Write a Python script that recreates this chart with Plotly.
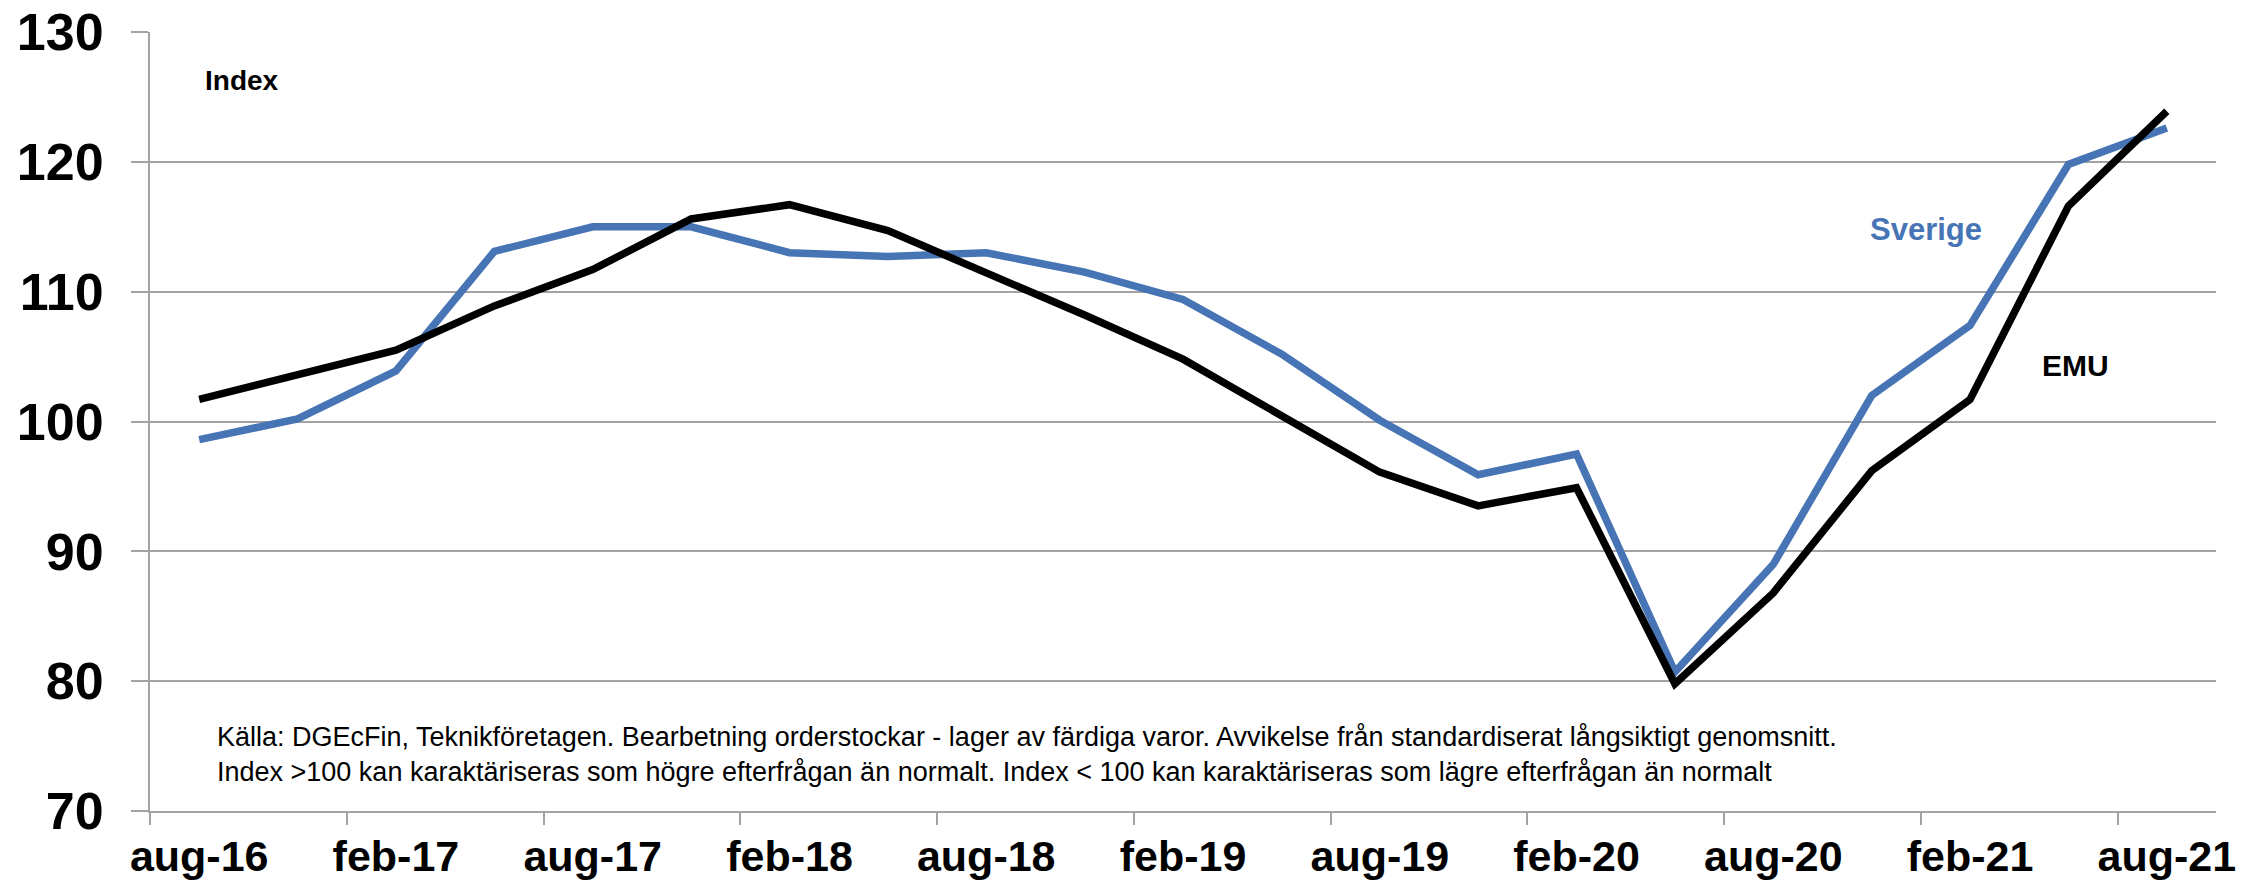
import plotly.graph_objects as go

# Quarterly observations (Aug 2016 - Aug 2021)
categories = ["aug-16", "nov-16", "feb-17", "maj-17", "aug-17", "nov-17", "feb-18", "maj-18",
              "aug-18", "nov-18", "feb-19", "maj-19", "aug-19", "nov-19", "feb-20", "maj-20",
              "aug-20", "nov-20", "feb-21", "maj-21", "aug-21"]
sverige = [98.6, 100.2, 103.9, 113.1, 115.0, 115.0, 113.0, 112.7, 113.0, 111.5, 109.4,
           105.2, 100.1, 95.9, 97.5, 80.7, 89.0, 102.0, 107.4, 119.8, 122.6]
emu = [101.7, 103.6, 105.5, 108.9, 111.7, 115.6, 116.7, 114.7, 111.5, 108.2, 104.8,
       100.4, 96.1, 93.5, 94.9, 79.8, 86.8, 96.2, 101.7, 116.6, 123.9]
y_ticks = [70, 80, 90, 100, 110, 120, 130]

x_idx = list(range(len(categories)))
label_idx = x_idx[::2]
label_text = [categories[i] for i in label_idx]
boundary_ticks = [i - 0.5 for i in label_idx]

FONT = "Arial, Liberation Sans, sans-serif"
BLUE = "#4674B4"
GRID = "#A3A3A3"

fig = go.Figure()
fig.add_trace(go.Scatter(x=x_idx, y=sverige, mode="lines", name="Sverige",
                         line=dict(color=BLUE, width=7.5), hoverinfo="skip"))
fig.add_trace(go.Scatter(x=x_idx, y=emu, mode="lines", name="EMU",
                         line=dict(color="black", width=7.5), hoverinfo="skip"))

fig.update_layout(
    width=2257, height=885,
    margin=dict(l=150, r=41, t=32, b=74),
    paper_bgcolor="white", plot_bgcolor="white",
    showlegend=False,
    font=dict(family=FONT, color="black"),
    xaxis=dict(
        range=[-0.5, len(categories) - 0.5], automargin=False,
        tickmode="array", tickvals=label_idx, ticktext=label_text,
        ticks="", showgrid=False, zeroline=False,
        showline=True, linecolor=GRID, linewidth=2,
        tickfont=dict(family=FONT, size=43, color="black", weight="bold"),
        ticklabelstandoff=6, ticklabeloverflow="allow",
        minor=dict(tickmode="array", tickvals=boundary_ticks, ticks="outside",
                   ticklen=12, tickwidth=2, tickcolor=GRID, showgrid=False),
    ),
    yaxis=dict(
        range=[70, 130], tickmode="array", tickvals=y_ticks, automargin=False,
        ticks="outside", ticklen=17, tickwidth=2, tickcolor=GRID,
        showgrid=True, gridcolor=GRID, gridwidth=2, zeroline=False,
        showline=True, linecolor=GRID, linewidth=2,
        tickfont=dict(family=FONT, size=52, color="black", weight="bold"),
        ticklabelstandoff=17, ticklabeloverflow="allow",
    ),
)

fig.add_annotation(x=0.04, y=126.3, xref="x", yref="y", text="Index", showarrow=False,
                   xanchor="left", yanchor="middle",
                   font=dict(family=FONT, size=28, color="black", weight="bold"))
fig.add_annotation(x=17.55, y=114.8, xref="x", yref="y", text="Sverige", showarrow=False,
                   xanchor="center", yanchor="middle",
                   font=dict(family=FONT, size=31, color=BLUE, weight="bold"))
fig.add_annotation(x=19.07, y=104.3, xref="x", yref="y", text="EMU", showarrow=False,
                   xanchor="center", yanchor="middle",
                   font=dict(family=FONT, size=30, color="black", weight="bold"))
fig.add_annotation(
    x=0.16, y=71.7, xref="x", yref="y", showarrow=False, xanchor="left", yanchor="bottom",
    align="left",
    text=("Källa: DGEcFin, Teknikföretagen. Bearbetning orderstockar - lager av färdiga varor. "
          "Avvikelse från standardiserat långsiktigt genomsnitt.<br>"
          "Index >100 kan karaktäriseras som högre efterfrågan än normalt. "
          "Index < 100 kan karaktäriseras som lägre efterfrågan än normalt"),
    font=dict(family=FONT, size=27, color="black"),
)

fig.write_html("out.html", config={"displayModeBar": False},
               post_script="document.body.style.margin='0';")
